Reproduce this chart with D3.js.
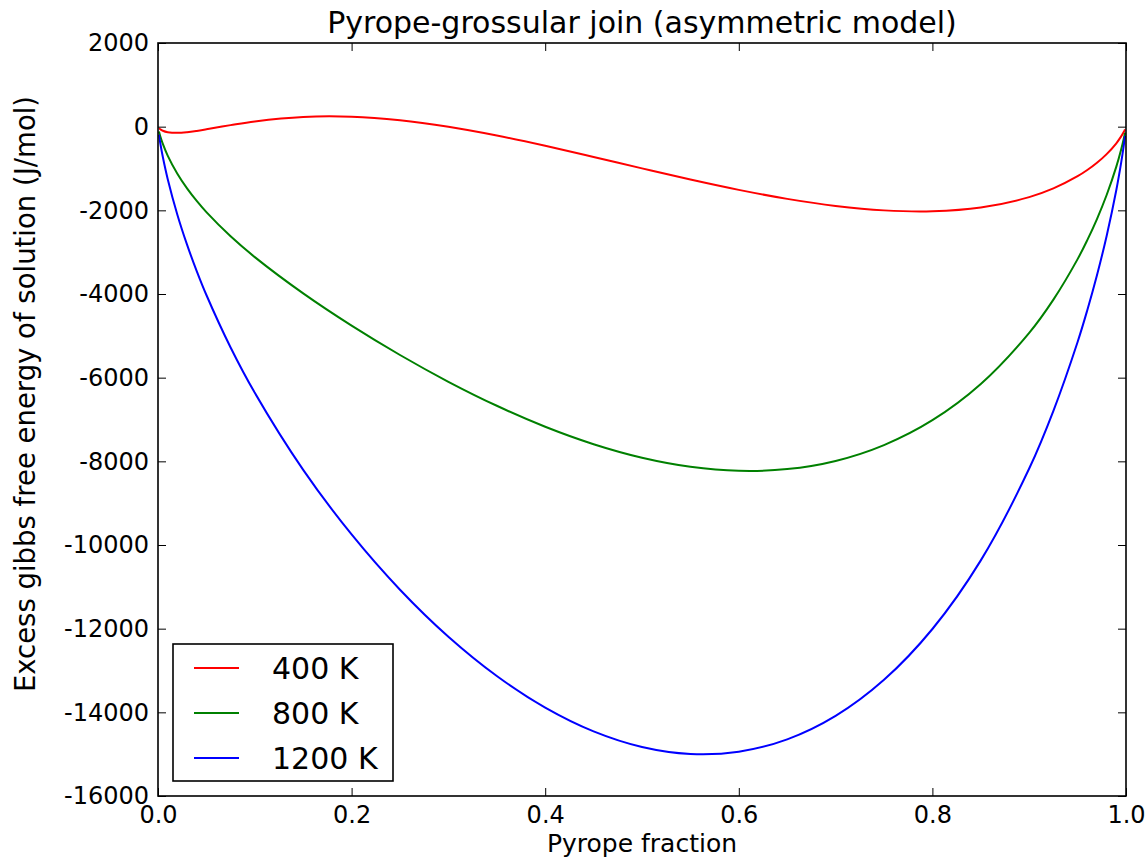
<!DOCTYPE html>
<html>
<head>
<meta charset="utf-8">
<script src="https://cdn.jsdelivr.net/npm/d3@7"></script>
<style>
  body { margin: 0; background: #fff; }
  text { font-family: "DejaVu Sans", sans-serif; fill: #000; }
</style>
</head>
<body>
<div id="chart"></div>
<script>
// pyrope fraction sample points
const pyrope = [0.001, 0.0025, 0.005, 0.01, 0.02, 0.03, 0.04, 0.05, 0.075, 0.1, 0.15, 0.2, 0.25, 0.3, 0.35,
  0.4, 0.45, 0.5, 0.55, 0.6, 0.65, 0.7, 0.75, 0.8, 0.85, 0.9, 0.925, 0.95, 0.96, 0.97, 0.98, 0.99, 0.995, 0.9975, 0.999];

// excess gibbs free energy (J/mol)
const g400 = [-35, -66, -98, -132, -148, -132, -101, -63, 37, 126, 232, 237, 152, -4, -213,
  -458, -724, -997, -1264, -1511, -1726, -1895, -2001, -2023, -1934, -1685, -1477, -1185, -1037, -863, -656, -397, -233, -134, -63];
const g800 = [-114, -240, -412, -691, -1126, -1476, -1776, -2044, -2621, -3118, -3985, -4756, -5458, -6098, -6672,
  -7173, -7590, -7913, -8129, -8226, -8186, -7990, -7611, -7016, -6151, -4929, -4134, -3166, -2712, -2208, -1634, -956, -547, -308, -142];
const g1200 = [-193, -414, -726, -1250, -2104, -2820, -3452, -4024, -5278, -6361, -8203, -9748, -11069, -12193, -13132,
  -13887, -14455, -14828, -14995, -14940, -14645, -14084, -13222, -12008, -10368, -8172, -6792, -5146, -4388, -3552, -2612, -1515, -861, -483, -220];

const seriesNames = ["400 K", "800 K", "1200 K"];
const seriesColors = ["#ff0000", "#008000", "#0000ff"];
const xTicks = [0, 0.2, 0.4, 0.6, 0.8, 1.0];
const yTicks = [2000, 0, -2000, -4000, -6000, -8000, -10000, -12000, -14000, -16000];

const width = 1148, height = 859;
const margin = { top: 43, right: 22, bottom: 63, left: 158 };
const tickLen = 8;

const svg = d3.select("#chart").append("svg")
  .attr("width", width)
  .attr("height", height);

svg.append("rect").attr("width", width).attr("height", height).attr("fill", "#fff");

const xScale = d3.scaleLinear().domain([0, 1]).range([margin.left, width - margin.right]);
const yScale = d3.scaleLinear().domain([-16000, 2000]).range([height - margin.bottom, margin.top]);

const series = [g400, g800, g1200].map((vals, i) => ({
  name: seriesNames[i],
  color: seriesColors[i],
  values: pyrope.map((x, j) => ({ x: x, y: vals[j] }))
}));

// lines
const line = d3.line()
  .x(d => xScale(d.x))
  .y(d => yScale(d.y))
  .curve(d3.curveCatmullRom.alpha(0.5));

svg.append("g")
  .selectAll("path")
  .data(series)
  .join("path")
  .attr("fill", "none")
  .attr("stroke", d => d.color)
  .attr("stroke-width", 2)
  .attr("d", d => line(d.values));

// axes, ticks pointing inward on all four sides
const fmtX = d => d.toFixed(1);
const fmtY = d => String(d);

svg.append("g")
  .attr("transform", `translate(0,${height - margin.bottom})`)
  .call(d3.axisBottom(xScale).tickValues(xTicks).tickSizeInner(-tickLen).tickSizeOuter(0).tickPadding(10).tickFormat(fmtX));
svg.append("g")
  .attr("transform", `translate(0,${margin.top})`)
  .call(d3.axisTop(xScale).tickValues(xTicks).tickSizeInner(-tickLen).tickSizeOuter(0).tickFormat(""));
svg.append("g")
  .attr("transform", `translate(${margin.left},0)`)
  .call(d3.axisLeft(yScale).tickValues(yTicks).tickSizeInner(-tickLen).tickSizeOuter(0).tickPadding(9).tickFormat(fmtY));
svg.append("g")
  .attr("transform", `translate(${width - margin.right},0)`)
  .call(d3.axisRight(yScale).tickValues(yTicks).tickSizeInner(-tickLen).tickSizeOuter(0).tickFormat(""));

svg.selectAll(".domain").remove();
svg.selectAll(".tick line").attr("stroke", "#000").attr("stroke-width", 1);
svg.selectAll(".tick text").style("font-size", "24px").attr("fill", "#000");

// frame
svg.append("rect")
  .attr("x", margin.left)
  .attr("y", margin.top)
  .attr("width", width - margin.left - margin.right)
  .attr("height", height - margin.top - margin.bottom)
  .attr("fill", "none")
  .attr("stroke", "#000")
  .attr("stroke-width", 1.6);

// titles
svg.append("text")
  .attr("x", (margin.left + width - margin.right) / 2)
  .attr("y", 33)
  .attr("text-anchor", "middle")
  .style("font-size", "30px")
  .text("Pyrope-grossular join (asymmetric model)");

svg.append("text")
  .attr("x", (margin.left + width - margin.right) / 2)
  .attr("y", 852)
  .attr("text-anchor", "middle")
  .style("font-size", "25px")
  .text("Pyrope fraction");

svg.append("text")
  .attr("transform", "translate(35,394) rotate(-90)")
  .attr("text-anchor", "middle")
  .style("font-size", "27.5px")
  .text("Excess gibbs free energy of solution (J/mol)");

// legend
const legend = svg.append("g").attr("transform", "translate(173,644)");
legend.append("rect")
  .attr("width", 220)
  .attr("height", 137)
  .attr("fill", "#fff")
  .attr("stroke", "#000")
  .attr("stroke-width", 1.6);

const item = legend.selectAll("g.item")
  .data(series)
  .join("g")
  .attr("class", "item")
  .attr("transform", (d, i) => `translate(0,${24 + i * 45})`);

item.append("line")
  .attr("x1", 21).attr("x2", 66)
  .attr("stroke", d => d.color)
  .attr("stroke-width", 2);

item.append("text")
  .attr("x", 99)
  .attr("dy", "0.36em")
  .style("font-size", "30px")
  .text(d => d.name);
</script>
</body>
</html>
